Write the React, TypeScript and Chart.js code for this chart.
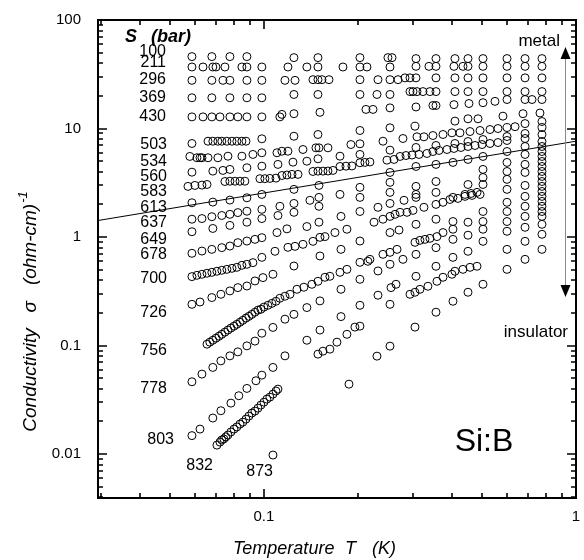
import React, { useEffect, useRef } from 'react';
import { Chart, registerables } from 'chart.js';

Chart.register(...registerables);

// Axis ranges
const T_MIN = 0.0294;
const T_MAX = 1;
const S_MIN = 0.00394;
const S_MAX = 100;

// Stress values (bar) labelling each curve
const stressLabels = ['100', '211', '296', '369', '430', '503', '534', '560', '583', '613', '637', '649', '678', '700', '726', '756', '778', '803', '832', '873'];

// Temperature (K) / conductivity (ohm-cm)^-1 for each stress
const t100 = [0.0588, 0.0681, 0.0778, 0.0882, 0.1248, 0.149, 0.2031, 0.2497, 0.2573, 0.3071, 0.3559, 0.4094, 0.4507, 0.5035, 0.6011, 0.6866, 0.778];
const s100 = [46, 46, 46, 46, 45, 45, 45, 45, 45, 44.1, 44.1, 44.1, 44.1, 44.1, 44.1, 44.1, 44.1];

const t211 = [0.0588, 0.0638, 0.0686, 0.0702, 0.075, 0.085, 0.0882, 0.0985, 0.1194, 0.1373, 0.149, 0.1792, 0.2031, 0.2139, 0.2535, 0.3071, 0.3379, 0.3559, 0.4064, 0.4343, 0.4507, 0.5035, 0.6011, 0.6866, 0.778];
const s211 = [36.9, 36.9, 36.9, 36.9, 36.9, 36.9, 36.9, 36.9, 36.9, 36.9, 36.9, 36.9, 36.9, 36.9, 36.9, 37.4, 37.4, 37.4, 37.4, 37.4, 37.4, 37.4, 37.4, 37.4, 37.4];

const t296 = [0.0588, 0.0681, 0.0739, 0.0778, 0.0882, 0.0985, 0.1168, 0.1258, 0.1436, 0.149, 0.1534, 0.1616, 0.2031, 0.232, 0.2535, 0.269, 0.2832, 0.2938, 0.3071, 0.3559, 0.4094, 0.4507, 0.5035, 0.6011, 0.6866, 0.778];
const s296 = [27.8, 27.8, 27.8, 27.8, 27.8, 27.8, 27.8, 27.8, 28.2, 28.2, 28.2, 28.2, 28.2, 28.2, 28.2, 28.2, 29.3, 29.3, 29.3, 29.3, 29.3, 29.3, 29.3, 29.3, 29.3, 29.3];

const t369 = [0.0588, 0.0681, 0.0778, 0.0882, 0.0985, 0.1248, 0.149, 0.2031, 0.2303, 0.2535, 0.2938, 0.3004, 0.3093, 0.3233, 0.3404, 0.3559, 0.4094, 0.4507, 0.5035, 0.6011, 0.6866, 0.778];
const s369 = [19.2, 19.2, 19.2, 19.2, 19.2, 20.6, 20.6, 20.6, 20.6, 20.6, 21.9, 21.9, 21.9, 21.9, 21.9, 21.9, 21.9, 21.9, 21.9, 21.9, 21.9, 21.9];

const t430 = [0.0588, 0.0638, 0.0681, 0.0723, 0.0778, 0.0825, 0.0882, 0.0985, 0.1125, 0.1142, 0.1248, 0.1512, 0.2123, 0.2236, 0.2535, 0.3071, 0.348, 0.3559, 0.4064, 0.454, 0.5035, 0.55, 0.6011, 0.6866, 0.7228, 0.778];
const s430 = [12.8, 12.8, 12.8, 12.8, 12.8, 12.8, 12.8, 12.8, 12.8, 13.5, 13.7, 14.1, 15.0, 15.0, 15.5, 15.8, 16.3, 16.3, 16.6, 17.0, 17.3, 17.8, 18.5, 18.5, 18.5, 18.5];

const t503 = [0.0588, 0.0662, 0.0686, 0.0712, 0.0733, 0.0761, 0.079, 0.0819, 0.085, 0.0876, 0.0985, 0.1248, 0.149, 0.2031, 0.2535, 0.3048, 0.4094, 0.4507, 0.4853, 0.5833, 0.6764, 0.7665];
const s503 = [7.28, 7.64, 7.64, 7.64, 7.64, 7.64, 7.64, 7.64, 7.64, 7.64, 8.04, 8.49, 8.81, 9.59, 10.15, 10.5, 11.7, 12.3, 12.3, 13.0, 13.7, 13.9];

const t534 = [0.0579, 0.061, 0.0624, 0.0633, 0.0662, 0.0712, 0.0767, 0.085, 0.0922, 0.0985, 0.1101, 0.1142, 0.1194, 0.1334, 0.1468, 0.1501, 0.1604, 0.19, 0.2031, 0.2407, 0.279, 0.3093, 0.3257, 0.348, 0.3748, 0.4004, 0.4248, 0.4574, 0.4926, 0.5302, 0.5623, 0.6011, 0.6378, 0.6866, 0.778];
const s534 = [5.53, 5.38, 5.38, 5.38, 5.38, 5.38, 5.56, 5.56, 5.77, 5.98, 5.98, 6.18, 6.18, 6.41, 6.64, 6.64, 6.64, 7.12, 7.23, 7.64, 8.09, 8.39, 8.39, 8.62, 8.81, 9.13, 9.13, 9.38, 9.59, 9.79, 10.0, 10.2, 10.4, 11.1, 11.6];

const t560 = [0.0588, 0.0686, 0.0739, 0.0778, 0.0882, 0.0985, 0.1109, 0.1239, 0.1373, 0.149, 0.1753, 0.2031, 0.2535, 0.3071, 0.3559, 0.4094, 0.4507, 0.5035, 0.6011, 0.6866, 0.778];
const s560 = [3.96, 4.05, 4.11, 4.2, 4.35, 4.5, 4.67, 4.9, 5.0, 5.26, 5.56, 5.77, 6.32, 6.69, 6.98, 7.28, 7.59, 7.92, 8.44, 9.0, 10.2];

const t583 = [0.0571, 0.0601, 0.0633, 0.0657, 0.075, 0.0778, 0.0808, 0.0838, 0.0869, 0.0971, 0.1007, 0.1045, 0.1093, 0.1142, 0.1185, 0.123, 0.1286, 0.1436, 0.149, 0.1546, 0.1604, 0.1664, 0.1753, 0.1832, 0.1914, 0.2031, 0.2107, 0.2186, 0.2479, 0.2612, 0.273, 0.2853, 0.2982, 0.314, 0.333, 0.348, 0.364, 0.386, 0.4064, 0.4279, 0.4507, 0.4747, 0.4999, 0.5302, 0.5623, 0.6011, 0.6866, 0.778];
const s583 = [2.93, 2.99, 3.01, 3.05, 3.25, 3.27, 3.27, 3.27, 3.27, 3.45, 3.45, 3.47, 3.49, 3.69, 3.73, 3.78, 3.78, 4.02, 4.05, 4.05, 4.06, 4.11, 4.47, 4.5, 4.52, 4.84, 4.87, 4.92, 5.11, 5.19, 5.53, 5.64, 5.7, 5.77, 5.89, 6.14, 6.28, 6.41, 6.55, 6.69, 6.83, 6.98, 7.12, 7.28, 7.43, 7.76, 8.09, 8.81];

const t613 = [0.0588, 0.0686, 0.0778, 0.0882, 0.0985, 0.1248, 0.1501, 0.2031, 0.2535, 0.3071, 0.3559, 0.4507, 0.2535, 0.3071, 0.3559, 0.4034, 0.4507, 0.5035, 0.6011, 0.6866, 0.778, 0.778];
const s613 = [2.07, 2.1, 2.19, 2.3, 2.47, 2.75, 2.99, 2.87, 3.19, 2.93, 3.25, 3.05, 3.94, 4.47, 4.67, 4.87, 5.19, 5.53, 6.14, 6.83, 7.59, 6.83];

const t637 = [0.0588, 0.0633, 0.0681, 0.0733, 0.0778, 0.0825, 0.0882, 0.0985, 0.1125, 0.1248, 0.1404, 0.1501, 0.1753, 0.2031, 0.2535, 0.3071, 0.3559, 0.4034, 0.4408, 0.4608, 0.4817, 0.5035, 0.6011, 0.6866, 0.778, 0.778];
const s637 = [1.46, 1.48, 1.54, 1.58, 1.62, 1.68, 1.73, 1.8, 1.92, 2.04, 2.18, 2.32, 2.47, 2.32, 2.58, 2.47, 2.58, 2.32, 2.47, 2.52, 2.58, 4.2, 4.87, 5.77, 6.14, 5.53];

const t649 = [0.0588, 0.0686, 0.0778, 0.0882, 0.0985, 0.1109, 0.1248, 0.1501, 0.5035, 0.6011, 0.6866, 0.778, 0.778];
const s649 = [1.12, 1.2, 1.28, 1.37, 1.48, 1.58, 1.69, 1.92, 3.54, 4.02, 4.67, 4.97, 4.47];

const t678 = [0.0588, 0.0633, 0.0681, 0.0733, 0.0778, 0.0825, 0.0882, 0.0936, 0.0985, 0.1101, 0.1185, 0.1373, 0.1501, 0.1766, 0.2031, 0.232, 0.2535, 0.2811, 0.3071, 0.5035, 0.6011, 0.6866, 0.778, 0.778];
const s678 = [0.708, 0.743, 0.77, 0.799, 0.826, 0.888, 0.919, 0.952, 0.987, 1.1, 1.19, 1.25, 1.37, 1.55, 1.72, 1.88, 2.04, 2.18, 2.32, 3.05, 3.4, 3.94, 4.02, 3.62];

const t700 = [0.0588, 0.061, 0.0633, 0.0657, 0.0681, 0.0707, 0.0733, 0.0761, 0.079, 0.0819, 0.085, 0.0882, 0.0922, 0.0985, 0.1085, 0.1194, 0.1258, 0.1334, 0.1436, 0.1512, 0.1569, 0.1689, 0.1845, 0.2253, 0.2407, 0.2535, 0.2631, 0.273, 0.2874, 0.3004, 0.3257, 0.3559, 0.3748, 0.3945, 0.4185, 0.4408, 0.4642, 0.4926, 0.6011, 0.6866, 0.778, 0.778];
const s700 = [0.432, 0.444, 0.454, 0.464, 0.473, 0.484, 0.494, 0.504, 0.515, 0.526, 0.549, 0.561, 0.581, 0.65, 0.739, 0.804, 0.821, 0.857, 0.913, 0.994, 1.01, 1.1, 1.18, 1.37, 1.46, 1.55, 1.62, 1.69, 1.69, 1.76, 1.88, 2.0, 2.09, 2.22, 2.27, 2.37, 2.42, 2.47, 2.75, 2.99, 3.25, 2.93];

const t726 = [0.0588, 0.0624, 0.0681, 0.0728, 0.0778, 0.0825, 0.0882, 0.0936, 0.0993, 0.1069, 0.1248, 0.1512, 0.1766, 0.2031, 0.2535, 0.271, 0.3071, 0.3559, 0.4034, 0.4507, 0.5035, 0.6011, 0.6866, 0.778, 0.778];
const s726 = [0.24, 0.252, 0.277, 0.297, 0.319, 0.342, 0.354, 0.394, 0.423, 0.454, 0.541, 0.669, 0.77, 0.919, 1.1, 1.16, 1.31, 1.46, 1.39, 1.37, 1.72, 2.09, 2.37, 2.63, 2.37];

const t756 = [0.0657, 0.0671, 0.0686, 0.0702, 0.0718, 0.0733, 0.075, 0.0767, 0.0784, 0.0802, 0.0819, 0.0838, 0.0856, 0.0876, 0.0895, 0.0915, 0.0936, 0.0957, 0.0978, 0.1, 0.103, 0.1061, 0.1093, 0.1125, 0.1168, 0.1212, 0.1276, 0.1343, 0.1425, 0.149, 0.1569, 0.1627, 0.1753, 0.1845, 0.2031, 0.2154, 0.2186, 0.2407, 0.2535, 0.267, 0.3048, 0.3162, 0.3281, 0.3404, 0.3585, 0.3748, 0.4034, 0.5035, 0.6011, 0.6866, 0.778, 0.778];
const s756 = [0.103, 0.1075, 0.112, 0.117, 0.122, 0.127, 0.133, 0.139, 0.145, 0.151, 0.157, 0.164, 0.171, 0.179, 0.186, 0.194, 0.203, 0.212, 0.216, 0.226, 0.235, 0.245, 0.256, 0.273, 0.285, 0.297, 0.33, 0.345, 0.367, 0.391, 0.426, 0.435, 0.473, 0.504, 0.585, 0.598, 0.623, 0.693, 0.723, 0.77, 0.894, 0.932, 0.952, 0.973, 1.01, 1.1, 1.18, 1.39, 1.72, 1.92, 2.13, 1.92];

const t778 = [0.0588, 0.0633, 0.0686, 0.0728, 0.0778, 0.0825, 0.0882, 0.0936, 0.0985, 0.1069, 0.1168, 0.1248, 0.1373, 0.1512, 0.1766, 0.2031, 0.232, 0.2535, 0.279, 0.3071, 0.3559, 0.4034, 0.4507, 0.5035, 0.6011, 0.6866, 0.778, 0.778];
const s778 = [0.0464, 0.0546, 0.0629, 0.0723, 0.0804, 0.0875, 0.0994, 0.11, 0.13, 0.147, 0.175, 0.194, 0.224, 0.258, 0.33, 0.408, 0.487, 0.561, 0.623, 0.693, 0.799, 0.952, 1.04, 1.18, 1.39, 1.55, 1.72, 1.55];

const t803 = [0.0588, 0.0624, 0.0686, 0.0728, 0.0784, 0.0831, 0.0882, 0.0943, 0.0985, 0.1069, 0.1168, 0.1373, 0.1512, 0.1766, 0.2031, 0.232, 0.2554, 0.265, 0.3071, 0.3559, 0.4034, 0.4507, 0.5035, 0.6011, 0.6866, 0.778];
const s803 = [0.0148, 0.017, 0.0215, 0.0251, 0.0295, 0.0345, 0.0403, 0.0474, 0.0534, 0.0629, 0.0804, 0.112, 0.139, 0.185, 0.235, 0.291, 0.342, 0.367, 0.435, 0.538, 0.65, 0.739, 0.913, 1.13, 1.23, 1.31];

const t832 = [0.0707, 0.0723, 0.0733, 0.0744, 0.0755, 0.0767, 0.0784, 0.0802, 0.0819, 0.0838, 0.0856, 0.0876, 0.0895, 0.0915, 0.0936, 0.0957, 0.0978, 0.1, 0.1022, 0.1045, 0.1069, 0.1093, 0.1109, 0.149, 0.1546, 0.1627, 0.1714, 0.1845, 0.1957, 0.2031, 0.2535, 0.2938, 0.3048, 0.3162, 0.3354, 0.3585, 0.3748, 0.4004, 0.4094, 0.4343, 0.4574, 0.4817, 0.6011, 0.6866, 0.778];
const s832 = [0.0121, 0.0129, 0.0135, 0.0138, 0.0144, 0.015, 0.016, 0.017, 0.0178, 0.0189, 0.0197, 0.021, 0.0224, 0.0239, 0.0249, 0.0265, 0.0283, 0.0301, 0.0321, 0.0335, 0.0357, 0.0381, 0.0397, 0.0834, 0.0888, 0.0927, 0.1075, 0.127, 0.148, 0.151, 0.24, 0.297, 0.31, 0.33, 0.352, 0.391, 0.426, 0.454, 0.484, 0.504, 0.526, 0.538, 0.77, 0.913, 1.06];

const t873 = [0.1069, 0.1873, 0.2303, 0.2535, 0.3048, 0.3559, 0.4034, 0.4507, 0.5035, 0.6011, 0.6866, 0.778];
const s873 = [0.0098, 0.0441, 0.0799, 0.0988, 0.148, 0.203, 0.256, 0.31, 0.367, 0.504, 0.623, 0.77];

// Separatrix (straight line on log-log axes)
const sepT = [0.0294, 1];
const sepS = [1.42, 7.64];

const seriesT = [t100, t211, t296, t369, t430, t503, t534, t560, t583, t613, t637, t649, t678, t700, t726, t756, t778, t803, t832, t873];
const seriesS = [s100, s211, s296, s369, s430, s503, s534, s560, s583, s613, s637, s649, s678, s700, s726, s756, s778, s803, s832, s873];

const FONT = '"Liberation Sans", Arial, Helvetica, sans-serif';

// label anchor [right x, centre y] in px for each stress label
const labelPos: [number, number][] = [
  [166, 52], [166, 63], [166, 80], [166, 98], [166, 117], [167, 145], [167, 162], [167, 177], [167, 192],
  [167, 208], [167, 223], [167, 240], [167, 255], [167, 279], [167, 313], [167, 351], [167, 389], [174, 440], [213, 466], [273, 472],
];

const overlay = {
  id: 'overlay',
  afterDraw(chart: any) {
    const ctx = chart.ctx as CanvasRenderingContext2D;
    const { left, right, top, bottom } = chart.chartArea;
    const xs = chart.scales.x;
    const ys = chart.scales.y;
    ctx.save();
    ctx.strokeStyle = '#000';
    ctx.fillStyle = '#000';

    // ticks
    ctx.lineWidth = 1.6;
    ctx.beginPath();
    for (let e = -2; e <= 0; e++) {
      for (let m = 1; m <= 9; m++) {
        const v = m * Math.pow(10, e);
        if (v < T_MIN * 0.999 || v > T_MAX * 1.001) continue;
        const px = Math.round(xs.getPixelForValue(v));
        const len = m === 1 ? 9 : 5;
        ctx.moveTo(px, bottom); ctx.lineTo(px, bottom - len);
        ctx.moveTo(px, top); ctx.lineTo(px, top + len);
      }
    }
    for (let e = -3; e <= 2; e++) {
      for (let m = 1; m <= 9; m++) {
        const v = m * Math.pow(10, e);
        if (v < S_MIN * 0.999 || v > S_MAX * 1.001) continue;
        const py = Math.round(ys.getPixelForValue(v));
        const len = m === 1 ? 9 : 5;
        ctx.moveTo(left, py); ctx.lineTo(left + len, py);
        ctx.moveTo(right, py); ctx.lineTo(right - len, py);
      }
    }
    ctx.stroke();

    // frame
    ctx.lineWidth = 2;
    ctx.strokeRect(left, top, right - left, bottom - top);

    // tick labels
    ctx.font = `15px ${FONT}`;
    ctx.textBaseline = 'middle';
    ctx.textAlign = 'center';
    [0.1, 1].forEach((v) => {
      ctx.fillText(String(v), xs.getPixelForValue(v), bottom + 19);
    });
    ctx.textAlign = 'right';
    [100, 10, 1, 0.1, 0.01].forEach((v) => {
      ctx.fillText(String(v), left - 17, ys.getPixelForValue(v));
    });

    // axis titles
    ctx.font = `italic 18px ${FONT}`;
    ctx.textAlign = 'left';
    ctx.fillText('Temperature', 233, 549);
    ctx.fillText('T', 345, 549);
    ctx.fillText('(K)', 372, 549);

    ctx.save();
    ctx.translate(31, 312);
    ctx.rotate(-Math.PI / 2);
    const main = 'Conductivity   \u03c3   (ohm-cm)';
    ctx.font = `italic 19px ${FONT}`;
    const w1 = ctx.measureText(main).width;
    ctx.font = `italic 13px ${FONT}`;
    const w2 = ctx.measureText('-1').width;
    const x0 = -(w1 + w2) / 2;
    ctx.textAlign = 'left';
    ctx.font = `italic 19px ${FONT}`;
    ctx.fillText(main, x0, 0);
    ctx.font = `italic 13px ${FONT}`;
    ctx.fillText('-1', x0 + w1 + 1, -8);
    ctx.restore();

    // stress labels
    ctx.font = `bold italic 18px ${FONT}`;
    ctx.textAlign = 'left';
    ctx.fillText('S', 125, 37);
    ctx.fillText('(bar)', 151, 37);
    ctx.font = `16px ${FONT}`;
    ctx.textAlign = 'right';
    stressLabels.forEach((lab, i) => {
      const [x, y] = labelPos[i];
      ctx.fillText(lab, x, y);
    });

    // metal / insulator arrow
    ctx.strokeStyle = '#8a8a8a';
    ctx.lineWidth = 1;
    ctx.beginPath();
    ctx.moveTo(565.5, 56);
    ctx.lineTo(565.5, 288);
    ctx.stroke();
    ctx.fillStyle = '#000';
    ctx.beginPath();
    ctx.moveTo(565.5, 47); ctx.lineTo(560.5, 59); ctx.lineTo(570.5, 59); ctx.closePath();
    ctx.fill();
    ctx.beginPath();
    ctx.moveTo(565.5, 297); ctx.lineTo(560.5, 285); ctx.lineTo(570.5, 285); ctx.closePath();
    ctx.fill();
    ctx.font = `17px ${FONT}`;
    ctx.textAlign = 'right';
    ctx.fillText('metal', 560, 41);
    ctx.fillText('insulator', 568, 332);

    ctx.font = `32px ${FONT}`;
    ctx.textAlign = 'center';
    ctx.fillText('Si:B', 484, 442);
    ctx.restore();
  },
};

export default function App() {
  const ref = useRef<HTMLCanvasElement>(null);
  useEffect(() => {
    if (!ref.current) return;
    const datasets: any[] = seriesT.map((ts, i) => ({
      label: stressLabels[i],
      data: ts.map((t, j) => ({ x: t, y: seriesS[i][j] })),
      pointStyle: 'circle',
      pointRadius: 4,
      pointBorderWidth: 1,
      pointBorderColor: '#000',
      pointBackgroundColor: 'rgba(0,0,0,0)',
      showLine: false,
    }));
    datasets.push({
      label: 'separatrix',
      data: sepT.map((t, j) => ({ x: t, y: sepS[j] })),
      showLine: true,
      borderColor: '#000',
      borderWidth: 1,
      pointRadius: 0,
      fill: false,
    });
    const chart = new Chart(ref.current, {
      type: 'scatter',
      data: { datasets },
      options: {
        animation: false,
        responsive: false,
        devicePixelRatio: 1,
        layout: { padding: { left: 98, right: 8, top: 20, bottom: 62 } },
        plugins: { legend: { display: false }, tooltip: { enabled: false } },
        events: [],
        scales: {
          x: { type: 'logarithmic', min: T_MIN, max: T_MAX, display: false },
          y: { type: 'logarithmic', min: S_MIN, max: S_MAX, display: false },
        },
      },
      plugins: [overlay],
    });
    return () => chart.destroy();
  }, []);
  return (
    <div style={{ position: 'fixed', left: 0, top: 0, width: 584, height: 560, background: '#fff' }}>
      <canvas ref={ref} width={584} height={560} style={{ display: 'block' }} />
    </div>
  );
}
